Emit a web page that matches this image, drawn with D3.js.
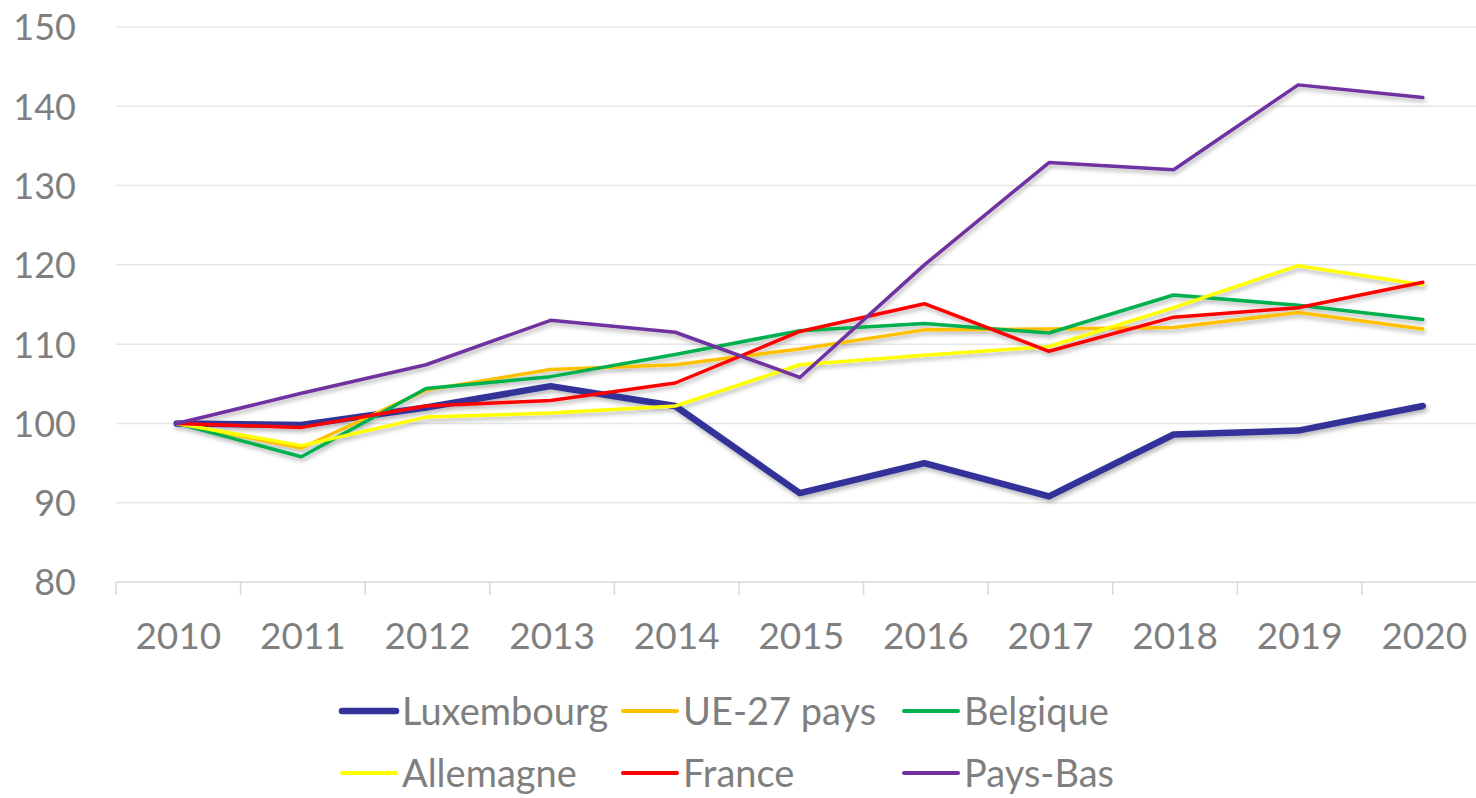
<!DOCTYPE html>
<html>
<head>
<meta charset="utf-8">
<script src="https://cdn.jsdelivr.net/npm/d3@7/dist/d3.min.js"></script>
<style>
  html, body { margin: 0; padding: 0; background: #fff; }
  svg { display: block; }
  text { font-family: Lato, "Open Sans", sans-serif; fill: #7f7f7f; }
</style>
</head>
<body>
<svg id="chart" width="1476" height="798"></svg>
<script>
const years = ["2010","2011","2012","2013","2014","2015","2016","2017","2018","2019","2020"];
const yTicks = [80, 90, 100, 110, 120, 130, 140, 150];

const seriesNames = ["Luxembourg", "UE-27 pays", "Belgique", "Allemagne", "France", "Pays-Bas"];
const luxembourg = [100, 99.8, 102.0, 104.7, 102.2, 91.2, 95.0, 90.8, 98.6, 99.1, 102.2];
const ue27       = [100, 96.9, 104.2, 106.8, 107.4, 109.4, 111.8, 111.9, 112.1, 114.0, 111.9];
const belgique   = [100, 95.8, 104.4, 105.9, 108.7, 111.7, 112.6, 111.4, 116.2, 114.9, 113.1];
const allemagne  = [100, 97.2, 100.8, 101.3, 102.2, 107.4, 108.6, 109.7, 114.6, 119.9, 117.5];
const france     = [100, 99.5, 102.2, 102.9, 105.1, 111.6, 115.1, 109.1, 113.4, 114.6, 117.8];
const paysBas    = [100, 103.8, 107.4, 113.0, 111.5, 105.8, 120.0, 132.9, 132.0, 142.7, 141.1];

const seriesColors = ["#333399", "#FFC000", "#00B050", "#FFFF00", "#FF0000", "#7030A0"];
const seriesWidths = [6.5, 3.5, 3.5, 3.5, 3.5, 3.5];
const seriesValues = [luxembourg, ue27, belgique, allemagne, france, paysBas];

const svg = d3.select("#chart");
const W = 1476;
const left = 116, bandW = 124.6;
const x = d3.scaleBand().domain(years).range([left, left + bandW * years.length]).paddingInner(0).paddingOuter(0);
const y = d3.scaleLinear().domain([80, 150]).range([582, 27]);

// defs: drop shadow
const defs = svg.append("defs");
const f = defs.append("filter").attr("id", "shadow").attr("x", "-5%").attr("y", "-20%").attr("width", "110%").attr("height", "140%");
f.append("feDropShadow").attr("dx", 1.5).attr("dy", 3).attr("stdDeviation", 2).attr("flood-color", "#000").attr("flood-opacity", 0.28);

// gridlines
svg.append("g").selectAll("line")
  .data(yTicks.filter(d => d !== 80))
  .join("line")
  .attr("x1", left).attr("x2", W)
  .attr("y1", d => y(d)).attr("y2", d => y(d))
  .attr("stroke", "#e6e6e6").attr("stroke-width", 1.5);

// x axis
const xAxis = d3.axisBottom(x).tickSize(0).tickPadding(0);
const gx = svg.append("g").attr("transform", `translate(0,${y(80)})`).call(xAxis);
gx.select(".domain").remove();
gx.append("line").attr("x1", left).attr("x2", W).attr("y1", 0).attr("y2", 0)
  .attr("stroke", "#d9d9d9").attr("stroke-width", 1.5);
gx.selectAll(".sep").data(years).join("line").attr("class", "sep")
  .attr("x1", d => x(d)).attr("x2", d => x(d)).attr("y1", 0).attr("y2", 13)
  .attr("stroke", "#d9d9d9").attr("stroke-width", 1.5);
gx.selectAll(".tick text")
  .attr("y", 67)
  .attr("dy", 0)
  .style("font-size", "37px").style("fill", "#7f7f7f").style("font-family", "Lato, sans-serif");

// y axis
const yAxis = d3.axisLeft(y).tickValues(yTicks).tickSize(0).tickPadding(0);
const gy = svg.append("g").attr("transform", `translate(76,0)`).call(yAxis);
gy.select(".domain").remove();
gy.selectAll(".tick text")
  .attr("x", 0).attr("dy", "0.36em")
  .style("font-size", "36px").style("fill", "#7f7f7f").style("font-family", "Lato, sans-serif");

// lines
const line = d3.line().x((d, i) => x(years[i]) + x.bandwidth() / 2 - 1.5).y(d => y(d));
const gl = svg.append("g").attr("filter", "url(#shadow)");
[0, 1, 2, 3, 4, 5].forEach(i => {
  gl.append("path")
    .datum(seriesValues[i])
    .attr("d", line)
    .attr("fill", "none")
    .attr("stroke", seriesColors[i])
    .attr("stroke-width", seriesWidths[i])
    .attr("stroke-linejoin", "round")
    .attr("stroke-linecap", "round");
});

// legend
const legX = [342, 623, 904];
const legY = [711, 773];
const lg = svg.append("g");
seriesNames.forEach((name, i) => {
  const cx = legX[i % 3], cy = legY[Math.floor(i / 3)];
  lg.append("line").attr("x1", cx).attr("x2", cx + 54).attr("y1", cy).attr("y2", cy)
    .attr("stroke", seriesColors[i]).attr("stroke-width", i === 0 ? 6.5 : 4)
    .attr("stroke-linecap", "round");
  lg.append("text").attr("x", cx + 60).attr("y", cy).attr("dy", "0.36em")
    .style("font-size", "38px").text(name);
});
</script>
</body>
</html>
